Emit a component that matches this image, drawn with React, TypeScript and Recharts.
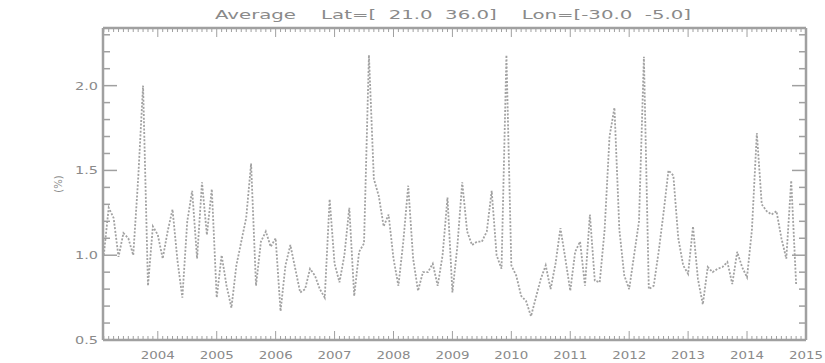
import { LineChart, Line, XAxis, YAxis } from "recharts";

const title = "Average    Lat=[  21.0  36.0]    Lon=[-30.0  -5.0]";
const yLabel = "(%)";
const startYear = 2003;
const yearLabels = ["2004", "2005", "2006", "2007", "2008", "2009", "2010", "2011", "2012", "2013", "2014", "2015"];
const yLabels = ["0.5", "1.0", "1.5", "2.0"];

// monthly values, Feb 2003 onwards
const values = [
  1.0, 1.28, 1.22, 0.99, 1.13, 1.1, 1.0, 1.45, 2.0, 0.82, 1.17, 1.12,
  0.98, 1.14, 1.27, 0.97, 0.75, 1.2, 1.38, 0.98, 1.43, 1.12, 1.39, 0.75,
  1.0, 0.82, 0.69, 0.94, 1.08, 1.22, 1.54, 0.82, 1.08, 1.14, 1.05, 1.1,
  0.67, 0.94, 1.06, 0.92, 0.78, 0.8, 0.92, 0.88, 0.8, 0.75, 1.33, 0.95,
  0.84, 1.0, 1.28, 0.76, 1.02, 1.07, 2.18, 1.45, 1.35, 1.17, 1.24, 0.98,
  0.82, 1.08, 1.41, 0.98, 0.79, 0.9, 0.9, 0.95, 0.82, 1.0, 1.34, 0.78,
  1.05, 1.43, 1.14, 1.06, 1.08, 1.08, 1.14, 1.38, 1.0, 0.92, 2.18, 0.94,
  0.88, 0.76, 0.73, 0.64, 0.75, 0.86, 0.94, 0.8, 0.95, 1.16, 0.98, 0.79,
  1.02, 1.08, 0.82, 1.24, 0.85, 0.84, 1.15, 1.7, 1.87, 1.15, 0.88, 0.8,
  1.0, 1.2, 2.17, 0.8, 0.82, 1.02, 1.25, 1.5, 1.47, 1.1, 0.94, 0.89,
  1.17, 0.86, 0.71, 0.93, 0.9, 0.92, 0.93, 0.96, 0.83, 1.02, 0.93, 0.87,
  1.15, 1.72, 1.3, 1.26, 1.24, 1.26, 1.1, 0.98, 1.44, 0.83,
];

const data = values.map((v, i) => ({ t: startYear + (i + 1) / 12, v }));

// monthly minor ticks, yearly major ones
const xTicks = Array.from({ length: 144 }, (_, i) => startYear + (i + 1) / 12);
const yTicks = Array.from({ length: 19 }, (_, i) => 0.5 + i * 0.1);

const AXIS = "#a0a0a0";
const TEXT = "#8a8a8a";
const FONT = "DejaVu Sans, Arial, sans-serif";

const isYear = (t: number) => Math.abs(t - Math.round(t)) < 1e-6;
const isMajorY = (v: number) => Math.abs(v * 2 - Math.round(v * 2)) < 1e-6;
const yearText = (t: number) => yearLabels.find((l) => Number(l) === Math.round(t)) ?? "";
const yText = (v: number) => yLabels.find((l) => Math.abs(Number(l) - v) < 1e-6) ?? "";

function BottomTick(props: any) {
  const { x, y, payload } = props;
  const major = isYear(payload.value);
  return (
    <g>
      <line x1={x} x2={x} y1={y} y2={y - (major ? 9 : 4)} stroke={AXIS} strokeWidth={1} />
      {major && (
        <text
          x={x}
          y={y + 19}
          textAnchor="middle"
          fontSize={10}
          fill={TEXT}
          fontFamily={FONT}
          textLength={34}
          lengthAdjust="spacingAndGlyphs"
        >
          {yearText(payload.value)}
        </text>
      )}
    </g>
  );
}

function TopTick(props: any) {
  const { x, y, payload } = props;
  const major = isYear(payload.value);
  return <line x1={x} x2={x} y1={y} y2={y + (major ? 9 : 4)} stroke={AXIS} strokeWidth={1} />;
}

function LeftTick(props: any) {
  const { x, y, payload } = props;
  const major = isMajorY(payload.value);
  return (
    <g>
      <line x1={x} x2={x + (major ? 14 : 7)} y1={y} y2={y} stroke={AXIS} strokeWidth={1.5} />
      {major && (
        <text
          x={x - 5}
          y={y + 4}
          textAnchor="end"
          fontSize={11}
          fill={TEXT}
          fontFamily={FONT}
          textLength={23}
          lengthAdjust="spacingAndGlyphs"
        >
          {yText(payload.value)}
        </text>
      )}
    </g>
  );
}

function RightTick(props: any) {
  const { x, y, payload } = props;
  const major = isMajorY(payload.value);
  return <line x1={x} x2={x - (major ? 14 : 7)} y1={y} y2={y} stroke={AXIS} strokeWidth={1.5} />;
}

export default function App() {
  return (
    <div style={{ position: "absolute", left: 0, top: 0, width: 825, height: 363, background: "#fff" }}>
      <LineChart width={825} height={363} data={data} margin={{ top: 0, right: 0, bottom: 0, left: 0 }}>
        <XAxis
          xAxisId="bottom"
          dataKey="t"
          type="number"
          domain={[2003.07, 2015.001]}
          allowDataOverflow
          ticks={xTicks}
          interval={0}
          height={23}
          tickSize={0}
          tickMargin={0}
          tick={<BottomTick />}
          axisLine={{ stroke: AXIS, strokeWidth: 2.5 }}
        />
        <XAxis
          xAxisId="top"
          orientation="top"
          dataKey="t"
          type="number"
          domain={[2003.07, 2015.001]}
          allowDataOverflow
          ticks={xTicks}
          interval={0}
          height={28}
          tickSize={0}
          tickMargin={0}
          tick={<TopTick />}
          axisLine={{ stroke: AXIS, strokeWidth: 2.5 }}
        />
        <YAxis
          yAxisId="left"
          type="number"
          domain={[0.5, 2.34]}
          allowDataOverflow
          ticks={yTicks}
          interval={0}
          width={103}
          tickSize={0}
          tickMargin={0}
          tick={<LeftTick />}
          axisLine={{ stroke: AXIS, strokeWidth: 2.5 }}
        />
        <YAxis
          yAxisId="right"
          orientation="right"
          type="number"
          domain={[0.5, 2.34]}
          allowDataOverflow
          ticks={yTicks}
          interval={0}
          width={19}
          tickSize={0}
          tickMargin={0}
          tick={<RightTick />}
          axisLine={{ stroke: AXIS, strokeWidth: 2.5 }}
        />
        <Line
          xAxisId="bottom"
          yAxisId="left"
          type="linear"
          dataKey="v"
          stroke="#a2a2a2"
          strokeWidth={1.8}
          strokeDasharray="2 1.6"
          dot={false}
          isAnimationActive={false}
        />
        <Line
          xAxisId="top"
          yAxisId="right"
          type="linear"
          dataKey="v"
          stroke="none"
          dot={false}
          isAnimationActive={false}
        />
      </LineChart>
      <svg width={825} height={363} style={{ position: "absolute", left: 0, top: 0, pointerEvents: "none" }}>
        <text
          x={215}
          y={19}
          fontSize={12}
          fill={TEXT}
          fontFamily={FONT}
          textLength={476}
          lengthAdjust="spacingAndGlyphs"
          style={{ whiteSpace: "pre" }}
        >
          {title}
        </text>
        <text
          x={62}
          y={184}
          textAnchor="middle"
          fontSize={10}
          fill={TEXT}
          fontFamily={FONT}
          transform="rotate(-90 62 184)"
        >
          {yLabel}
        </text>
      </svg>
    </div>
  );
}
